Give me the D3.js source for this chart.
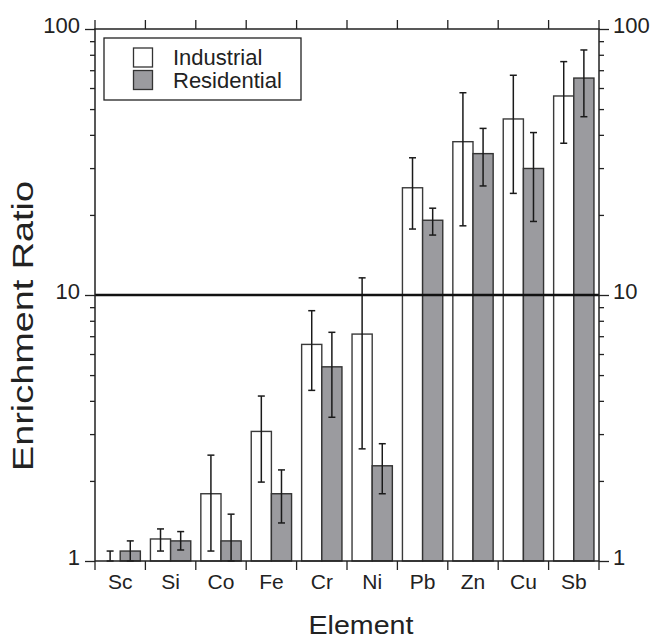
<!DOCTYPE html>
<html>
<head>
<meta charset="utf-8">
<script src="https://cdn.jsdelivr.net/npm/d3@7"></script>
<style>
  body { margin: 0; background: #fff; }
  text { font-family: "Liberation Sans", Arial, sans-serif; fill: #222; }
</style>
</head>
<body>
<div id="chart"></div>
<script>
// data
const elements = ['Sc', 'Si', 'Co', 'Fe', 'Cr', 'Ni', 'Pb', 'Zn', 'Cu', 'Sb'];
const industrial = [1.0, 1.21, 1.79, 3.07, 6.52, 7.13, 25.3, 37.7, 45.9, 56.0];
const industrialLow = [1.0, 1.09, 1.09, 1.98, 4.38, 2.64, 17.7, 18.2, 24.1, 37.2];
const industrialHigh = [1.09, 1.32, 2.50, 4.17, 8.73, 11.6, 32.8, 57.6, 67.0, 75.4];
const residential = [1.09, 1.19, 1.19, 1.79, 5.37, 2.28, 19.1, 34.0, 29.9, 65.4];
const residentialLow = [1.0, 1.10, 1.0, 1.39, 3.47, 1.79, 16.8, 25.7, 18.9, 46.8];
const residentialHigh = [1.19, 1.29, 1.50, 2.20, 7.24, 2.76, 21.2, 42.3, 40.8, 83.4];
const majorTicks = [1, 10, 100];
const minorTicks = [2, 3, 4, 5, 6, 7, 8, 9, 20, 30, 40, 50, 60, 70, 80, 90];
const threshold = 10;

const W = 654, H = 639;
const margin = { top: 29, right: 55, bottom: 78, left: 95 };
const width = W - margin.left - margin.right,
  height = H - margin.top - margin.bottom;

const svg = d3.select('#chart')
  .append('svg')
  .attr('width', W)
  .attr('height', H);

const g = svg.append('g')
  .attr('transform', `translate(${margin.left}, ${margin.top})`);

const x = d3.scaleBand().domain(elements).range([0, width]).padding(0);
const sub = d3.scaleBand().domain(['ind', 'res']).range([x.bandwidth() * 0.1, x.bandwidth() * 0.9]);
const y = d3.scaleLog().domain([1, 100]).range([height, 0]);

const rows = elements.map((e, i) => ({
  e,
  ind: industrial[i], indLo: industrialLow[i], indHi: industrialHigh[i],
  res: residential[i], resLo: residentialLow[i], resHi: residentialHigh[i]
}));

// bars
const grp = g.selectAll('.grp')
  .data(rows)
  .join('g')
  .attr('transform', d => `translate(${x(d.e)},0)`);

grp.append('rect')
  .attr('x', sub('ind'))
  .attr('y', d => y(d.ind))
  .attr('width', sub.bandwidth())
  .attr('height', d => height - y(d.ind))
  .attr('fill', '#fff')
  .attr('stroke', '#3a3a3a')
  .attr('stroke-width', 1.4);

grp.append('rect')
  .attr('x', sub('res'))
  .attr('y', d => y(d.res))
  .attr('width', sub.bandwidth())
  .attr('height', d => height - y(d.res))
  .attr('fill', '#9b9b9f')
  .attr('stroke', '#333')
  .attr('stroke-width', 1.4);

// error bars
function errBar(sel, key, lo, hi) {
  const cx = sub(key) + sub.bandwidth() / 2, cap = 3.5;
  sel.append('line')
    .attr('x1', cx).attr('x2', cx)
    .attr('y1', d => y(d[lo])).attr('y2', d => y(d[hi]));
  sel.append('line')
    .attr('x1', cx - cap).attr('x2', cx + cap)
    .attr('y1', d => y(d[hi])).attr('y2', d => y(d[hi]));
  sel.append('line')
    .attr('x1', cx - cap).attr('x2', cx + cap)
    .attr('y1', d => y(d[lo])).attr('y2', d => y(d[lo]));
}
const eb = grp.append('g').attr('stroke', '#1a1a1a').attr('stroke-width', 1.5);
errBar(eb, 'ind', 'indLo', 'indHi');
errBar(eb, 'res', 'resLo', 'resHi');

// threshold line at 10
g.append('line')
  .attr('x1', 0).attr('x2', width)
  .attr('y1', y(threshold)).attr('y2', y(threshold))
  .attr('stroke', '#111')
  .attr('stroke-width', 2.6);

// frame
g.append('rect')
  .attr('width', width).attr('height', height)
  .attr('fill', 'none')
  .attr('stroke', '#222')
  .attr('stroke-width', 1.5);

// y axes (log)
const allTicks = majorTicks.concat(minorTicks);
const fmt = d => majorTicks.includes(d) ? d3.format('d')(d) : '';

function styleY(ax, dir) {
  ax.select('.domain').remove();
  ax.selectAll('.tick line')
    .attr('stroke', '#222')
    .attr('stroke-width', 1.3)
    .attr('x2', d => dir * (majorTicks.includes(d) ? 10 : 5));
  ax.selectAll('.tick text')
    .attr('dy', '0.18em')
    .style('font-size', '22px');
}

const yl = g.append('g')
  .call(d3.axisLeft(y).tickValues(allTicks).tickFormat(fmt).tickSize(10).tickPadding(5));
styleY(yl, -1);

const yr = g.append('g')
  .attr('transform', `translate(${width},0)`)
  .call(d3.axisRight(y).tickValues(allTicks).tickFormat(fmt).tickSize(9).tickPadding(5));
styleY(yr, 1);

// x axis labels and category boundary ticks
const xb = g.append('g')
  .attr('transform', `translate(0,${height})`)
  .call(d3.axisBottom(x).tickSize(0).tickPadding(13));
xb.select('.domain').remove();
xb.selectAll('.tick text').style('font-size', '21px');

const edges = elements.map(e => x(e)).concat([width]);
g.selectAll('.btick')
  .data(edges)
  .join('line')
  .attr('x1', d => d).attr('x2', d => d)
  .attr('y1', height).attr('y2', height + 9)
  .attr('stroke', '#222').attr('stroke-width', 1.3);
g.selectAll('.ttick')
  .data(edges)
  .join('line')
  .attr('x1', d => d).attr('x2', d => d)
  .attr('y1', 0).attr('y2', -9)
  .attr('stroke', '#222').attr('stroke-width', 1.3);

// axis titles
svg.append('text')
  .attr('transform', 'translate(33,326) rotate(-90)')
  .attr('text-anchor', 'middle')
  .attr('textLength', 290)
  .attr('lengthAdjust', 'spacingAndGlyphs')
  .style('font-size', '29px')
  .text('Enrichment Ratio');

svg.append('text')
  .attr('x', 361)
  .attr('y', 634)
  .attr('text-anchor', 'middle')
  .attr('textLength', 105)
  .attr('lengthAdjust', 'spacingAndGlyphs')
  .style('font-size', '26px')
  .text('Element');

// legend
const lg = svg.append('g');
lg.append('rect')
  .attr('x', 104).attr('y', 38)
  .attr('width', 197).attr('height', 62)
  .attr('fill', '#fff')
  .attr('stroke', '#222')
  .attr('stroke-width', 1.3);
const legendItems = [
  { name: 'Industrial', fill: '#fff' },
  { name: 'Residential', fill: '#9b9b9f' }
];
legendItems.forEach((it, i) => {
  lg.append('rect')
    .attr('x', 133.5).attr('y', 48 + i * 22.5)
    .attr('width', 19).attr('height', 19)
    .attr('fill', it.fill)
    .attr('stroke', '#333')
    .attr('stroke-width', 1.3);
  lg.append('text')
    .attr('x', 173).attr('y', 65 + i * 22.5)
    .style('font-size', '22px')
    .text(it.name);
});
</script>
</body>
</html>
